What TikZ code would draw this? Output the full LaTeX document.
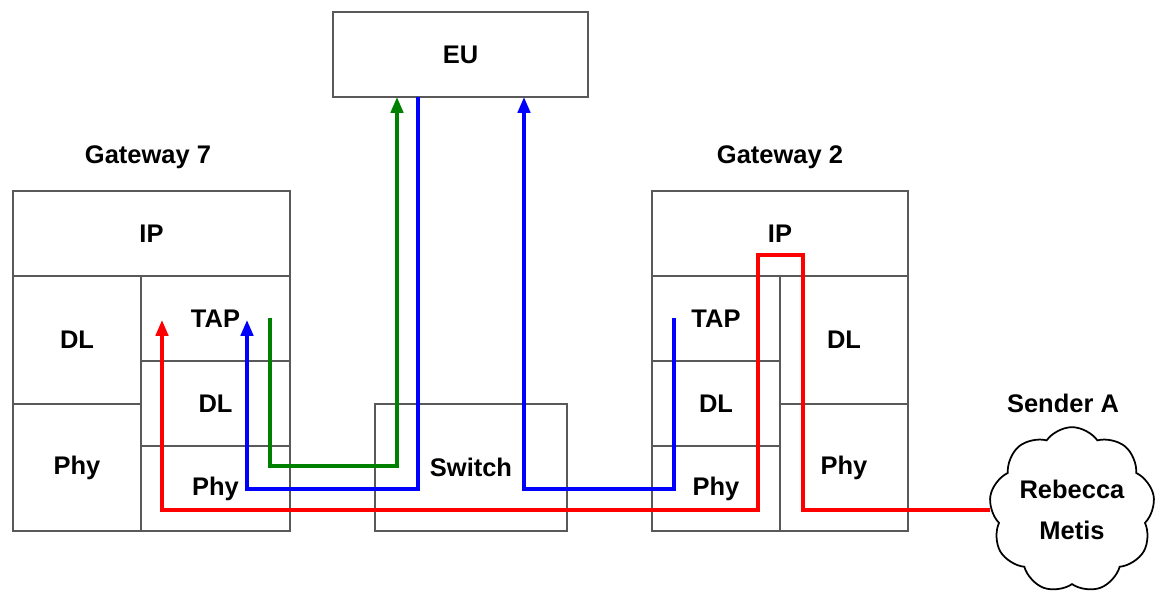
\documentclass[tikz,border=0pt]{standalone}
\usepackage{fontspec}
\setmainfont{Liberation Sans}
\usetikzlibrary{arrows.meta, positioning, calc, shapes.symbols}
\newcommand{\pxu}{0.02cm}
\tikzset{
    block/.style 2 args = {draw=black!65, line width=0.7pt, rectangle, inner sep=0pt, outer sep=0pt,
        minimum width=#1*\pxu, minimum height=#2*\pxu},
    nube/.style = {draw, cloud, cloud puffs=9, cloud puff arc=110, aspect=1,
        line width=1pt, inner sep=0pt, minimum width=156*\pxu, minimum height=160*\pxu, align=center},
    flujo/.style = {line width=2pt},
    rojo/.style = {flujo, draw=red},
    azul/.style = {flujo, draw=blue},
    verde/.style = {flujo, draw=green!50!black}
}

\begin{document}
\begin{tikzpicture}[x=\pxu, y=-\pxu, >={Triangle[length=9pt,width=7pt]},
    every node/.style={font=\bfseries\fontsize{14.5}{23}\selectfont}]
    \useasboundingbox (0,0) rectangle (1161,594);

    % Nodos
    \node [block={255}{85}] (eu) at (460.5,54.5) {EU};
    \node [block={192}{127}] (switch) at (471,467.5) {Switch};

    % Gateway 7
    \node (g7name) at (148,157) {Gateway 7};
    \node [block={277}{85}] (g7ip) at (151.5,233.5) {IP};
    \node [block={128}{128}, below right=0pt of g7ip.south west] (g7dl) {DL};
    \node [block={128}{127}, below=0pt of g7dl] (g7phy) {Phy};
    \node [block={149}{85}, below left=0pt of g7ip.south east] (g7tap) {TAP};
    \node [block={149}{85}, below=0pt of g7tap] (g7dl2) {DL};
    \node [block={149}{85}, below=0pt of g7dl2] (g7phy2) {Phy};

    % Gateway 2
    \node (g2name) at (780,157) {Gateway 2};
    \node [block={256}{85}] (g2ip) at (780,233.5) {IP};
    \node [block={128}{85}, below right=0pt of g2ip.south west] (g2tap) {TAP};
    \node [block={128}{85}, below=0pt of g2tap] (g2dl2) {DL};
    \node [block={128}{85}, below=0pt of g2dl2] (g2phy2) {Phy};
    \node [block={128}{128}, below left=0pt of g2ip.south east] (g2dl) {DL};
    \node [block={128}{127}, below=0pt of g2dl] (g2phy) {Phy};

    % Sender A
    \node (sendername) at (1063,403) {Sender A};
    \node [nube] (sender) at (1072,510) {Rebecca\\Metis};

    % Puntos de las flechas
    \coordinate (redR) at (803,255);
    \coordinate (redL) at (758,255);
    \coordinate (redlow) at (758,510);
    \coordinate (redtip) at (162,320);
    \coordinate (greentop) at (270,318);
    \coordinate (greenlow) at (270,466);
    \coordinate (greentip) at (397,97);
    \coordinate (blue1top) at (418,97);
    \coordinate (blue1low) at (418,489);
    \coordinate (blue1tip) at (247,320);
    \coordinate (blue2top) at (674,318);
    \coordinate (blue2low) at (674,489);
    \coordinate (blue2tip) at (524,97);

    % Flechas
    \draw [rojo, ->] (sender.west |- redlow) -| (redR) -- (redL) -- (redlow) -| (redtip);
    \draw [verde, ->] (greentop) -- (greenlow) -| (greentip);
    \draw [azul, ->] (blue1top) -- (blue1low) -| (blue1tip);
    \draw [azul, ->] (blue2top) -- (blue2low) -| (blue2tip);
\end{tikzpicture}
\end{document}
